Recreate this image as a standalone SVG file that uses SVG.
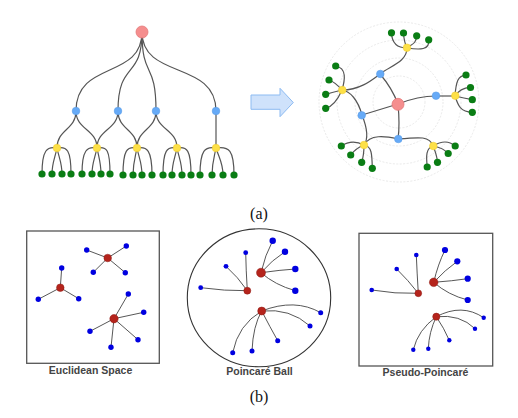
<svg xmlns="http://www.w3.org/2000/svg" width="518" height="418" viewBox="0 0 518 418">
<style>
.e{fill:none;stroke:#555;stroke-width:1.2}
.r0{fill:#f58e8e;stroke:#e57878;stroke-width:0.8}
.b0{fill:#66aaf7;stroke:#5a9de8;stroke-width:0.6}
.y0{fill:#fde047;stroke:#f2cf30;stroke-width:0.6}
.g0{fill:#0a7d14}
.ring{fill:none;stroke:#e3e3e3;stroke-width:0.8;stroke-dasharray:2 1.5}
.pe{fill:none;stroke:#444;stroke-width:0.9}
.pr{fill:#b5241c;stroke:#8f1a14;stroke-width:0.5}
.pb{fill:#0000e0}
.frame{fill:none;stroke:#555;stroke-width:1.3}
.lab{font-family:"Liberation Sans",Arial,sans-serif;font-weight:bold;font-size:10.5px;fill:#444;text-anchor:middle}
.cap{font-family:"Liberation Serif","Times New Roman",serif;font-size:16px;fill:#111;text-anchor:middle}
</style>

<!-- (a) left tree -->
<g id="tree-left">
<g id="tree-left-edges">
<path class="e" d="M142,32 C142,80 76,60 76,111"/>
<path class="e" d="M142,32 C142,80 118,60 118,111"/>
<path class="e" d="M142,32 C142,80 156,60 156,111"/>
<path class="e" d="M142,32 C142,80 216,60 216,111"/>
<path class="e" d="M76,111 C76,130 57,129 57,148"/>
<path class="e" d="M76,111 C76,130 97,129 97,148"/>
<path class="e" d="M118,111 C118,130 97,129 97,148"/>
<path class="e" d="M118,111 C118,130 137,129 137,148"/>
<path class="e" d="M156,111 C156,130 137,129 137,148"/>
<path class="e" d="M156,111 C156,130 177,129 177,148"/>
<path class="e" d="M216,111 L216,148"/>
<path class="e" d="M57,148 C47,146 42,150 42,174"/>
<path class="e" d="M57,148 C55,158 52,163 52,174"/>
<path class="e" d="M57,148 C59,158 62,163 62,174"/>
<path class="e" d="M57,148 C67,146 71,150 71,174"/>
<path class="e" d="M97,148 C87,146 82,150 82,174"/>
<path class="e" d="M97,148 C95,158 92,163 92,174"/>
<path class="e" d="M97,148 C99,158 101,163 101,174"/>
<path class="e" d="M97,148 C107,146 110,150 110,174"/>
<path class="e" d="M137,148 C127,146 123,150 123,175"/>
<path class="e" d="M137,148 C135,158 133,163 133,175"/>
<path class="e" d="M137,148 C139,158 142,163 142,175"/>
<path class="e" d="M137,148 C147,146 152,150 152,175"/>
<path class="e" d="M177,148 C167,146 163,150 163,175"/>
<path class="e" d="M177,148 C175,158 172,163 172,175"/>
<path class="e" d="M177,148 C179,158 182,163 182,175"/>
<path class="e" d="M177,148 C187,146 191,150 191,175"/>
<path class="e" d="M216,148 C205,146 200,150 200,175"/>
<path class="e" d="M216,148 C214,158 212,163 212,175"/>
<path class="e" d="M216,148 C219,158 223,163 223,175"/>
<path class="e" d="M216,148 C229,146 234,150 234,175"/>
</g>
<g id="tl-root"><circle class="r0" cx="142" cy="32" r="6"/></g>
<g id="tl-blue">
<circle class="b0" cx="76" cy="111" r="3.8"/>
<circle class="b0" cx="118" cy="111" r="3.8"/>
<circle class="b0" cx="156" cy="111" r="3.8"/>
<circle class="b0" cx="216" cy="111" r="3.8"/>
</g>
<g id="tl-yellow">
<circle class="y0" cx="57" cy="148" r="3.8"/>
<circle class="y0" cx="97" cy="148" r="3.8"/>
<circle class="y0" cx="137" cy="148" r="3.8"/>
<circle class="y0" cx="177" cy="148" r="3.8"/>
<circle class="y0" cx="216" cy="148" r="3.8"/>
</g>
<g id="tl-green">
<circle class="g0" cx="42" cy="174" r="3.6"/>
<circle class="g0" cx="52" cy="174" r="3.6"/>
<circle class="g0" cx="62" cy="174" r="3.6"/>
<circle class="g0" cx="71" cy="174" r="3.6"/>
<circle class="g0" cx="82" cy="174" r="3.6"/>
<circle class="g0" cx="92" cy="174" r="3.6"/>
<circle class="g0" cx="101" cy="174" r="3.6"/>
<circle class="g0" cx="110" cy="174" r="3.6"/>
<circle class="g0" cx="123" cy="175" r="3.6"/>
<circle class="g0" cx="133" cy="175" r="3.6"/>
<circle class="g0" cx="142" cy="175" r="3.6"/>
<circle class="g0" cx="152" cy="175" r="3.6"/>
<circle class="g0" cx="163" cy="175" r="3.6"/>
<circle class="g0" cx="172" cy="175" r="3.6"/>
<circle class="g0" cx="182" cy="175" r="3.6"/>
<circle class="g0" cx="191" cy="175" r="3.6"/>
<circle class="g0" cx="200" cy="175" r="3.6"/>
<circle class="g0" cx="212" cy="175" r="3.6"/>
<circle class="g0" cx="223" cy="175" r="3.6"/>
<circle class="g0" cx="234" cy="175" r="3.6"/>
</g>
</g>

<!-- arrow -->
<g id="arrow">
<polygon points="251,95 280,95 280,88.3 293.3,102.5 280,116.7 280,109.3 251,109.3" fill="#cfe2fb" stroke="#8dbbf2" stroke-width="1"/>
</g>

<!-- (a) radial tree -->
<g id="tree-radial">
<g id="rings">
<circle class="ring" cx="399" cy="102" r="26"/>
<circle class="ring" cx="399" cy="102" r="44"/>
<circle class="ring" cx="399" cy="102" r="62"/>
<circle class="ring" cx="399" cy="102" r="80"/>
</g>
<g id="tree-radial-edges">
<path class="e" d="M398,104 Q392,88 380,74"/>
<path class="e" d="M398,104 Q418,96 436,96"/>
<path class="e" d="M398,104 L362,115"/>
<path class="e" d="M398,104 Q400,125 398,139"/>
<path class="e" d="M380,74 C390,66 407,62 407,48"/>
<path class="e" d="M380,74 C372,80 360,90 342,90"/>
<path class="e" d="M362,115 C358,100 350,91 342,90"/>
<path class="e" d="M362,115 C366,125 369,138 364,145"/>
<path class="e" d="M398,139 C385,136 370,134 364,145"/>
<path class="e" d="M398,139 C420,137 430,136 433,146"/>
<path class="e" d="M436,96 L455,96"/>
<path class="e" d="M407,48 C398,48 392,44 391.5,33"/>
<path class="e" d="M407,48 Q404,42 403.5,33"/>
<path class="e" d="M407,48 C412,44 416,44 416.7,36"/>
<path class="e" d="M407,48 C420,50 430,50 428.7,40"/>
<path class="e" d="M342,90 C345,80 347,68 335.7,66"/>
<path class="e" d="M342,90 Q335,82 329,80"/>
<path class="e" d="M342,90 Q334,92 325.7,94.3"/>
<path class="e" d="M342,90 Q335,106 325.7,108.3"/>
<path class="e" d="M455,96 C456,82 458,75 466,75.3"/>
<path class="e" d="M455,96 Q460,88 470.3,87.3"/>
<path class="e" d="M455,96 Q464,98 472.3,99.7"/>
<path class="e" d="M455,96 C458,105 460,112 472.3,112.3"/>
<path class="e" d="M364,145 Q352,139 341.3,146"/>
<path class="e" d="M364,145 Q356,148 350.7,155"/>
<path class="e" d="M364,145 Q364,155 361.7,162.3"/>
<path class="e" d="M364,145 C372,146 372,155 372.3,168.3"/>
<path class="e" d="M433,146 Q446,138 455,146"/>
<path class="e" d="M433,146 Q444,148 448,153.7"/>
<path class="e" d="M433,146 Q436,152 437.7,162.3"/>
<path class="e" d="M433,146 C426,148 426,156 427.3,167"/>
</g>
<g id="tr-root"><circle class="r0" cx="398" cy="104.3" r="6"/></g>
<g id="tr-blue">
<circle class="b0" cx="380.3" cy="74" r="3.8"/>
<circle class="b0" cx="436" cy="95.7" r="3.8"/>
<circle class="b0" cx="361.7" cy="115.3" r="3.8"/>
<circle class="b0" cx="398.3" cy="139" r="3.8"/>
</g>
<g id="tr-yellow">
<circle class="y0" cx="407" cy="47.7" r="3.8"/>
<circle class="y0" cx="342.3" cy="90" r="3.8"/>
<circle class="y0" cx="455.3" cy="95.7" r="3.8"/>
<circle class="y0" cx="364" cy="145" r="3.8"/>
<circle class="y0" cx="433.3" cy="146" r="3.8"/>
</g>
<g id="tr-green">
<circle class="g0" cx="391.5" cy="32.8" r="3.6"/>
<circle class="g0" cx="403.5" cy="33" r="3.6"/>
<circle class="g0" cx="416.7" cy="35.8" r="3.6"/>
<circle class="g0" cx="428.7" cy="39.8" r="3.6"/>
<circle class="g0" cx="335.7" cy="66" r="3.6"/>
<circle class="g0" cx="329" cy="80" r="3.6"/>
<circle class="g0" cx="325.7" cy="94.3" r="3.6"/>
<circle class="g0" cx="325.7" cy="108.3" r="3.6"/>
<circle class="g0" cx="466" cy="75" r="3.6"/>
<circle class="g0" cx="470.5" cy="87.5" r="3.6"/>
<circle class="g0" cx="472.3" cy="99.7" r="3.6"/>
<circle class="g0" cx="472.3" cy="112.3" r="3.6"/>
<circle class="g0" cx="341.3" cy="146" r="3.6"/>
<circle class="g0" cx="350.7" cy="155" r="3.6"/>
<circle class="g0" cx="361.7" cy="162.3" r="3.6"/>
<circle class="g0" cx="372.3" cy="168.3" r="3.6"/>
<circle class="g0" cx="455.2" cy="146" r="3.6"/>
<circle class="g0" cx="448.2" cy="153.5" r="3.6"/>
<circle class="g0" cx="437.5" cy="162.3" r="3.6"/>
<circle class="g0" cx="427.2" cy="167" r="3.6"/>
</g>
</g>

<text class="cap" x="259" y="218.5">(a)</text>

<!-- (b) Euclidean Space -->
<g id="euclidean">
<rect class="frame" x="26.7" y="231" width="132.6" height="132.3"/>
<g id="euclid-edges">
<path class="pe" d="M107.7,258 L86.7,250 M107.7,258 L126.3,246 M107.7,258 L93.3,272.3 M107.7,258 L125.3,272.7"/>
<path class="pe" d="M60.3,287.7 L61.7,268 M60.3,287.7 L38.3,299.3 M60.3,287.7 L78.7,298.7"/>
<path class="pe" d="M114,318.7 L128.3,294 M114,318.7 L143.7,312.3 M114,318.7 L90,331.3 M114,318.7 L138,339.7 M114,318.7 L111,347.3"/>
</g>
<g id="euclid-nodes">
<circle class="pr" cx="107.7" cy="258" r="3.8"/>
<circle class="pr" cx="60.3" cy="287.7" r="3.8"/>
<circle class="pr" cx="114" cy="318.7" r="4.2"/>
<circle class="pb" cx="86.7" cy="250" r="2.7"/>
<circle class="pb" cx="126.3" cy="246" r="2.7"/>
<circle class="pb" cx="93.3" cy="272.3" r="2.7"/>
<circle class="pb" cx="125.3" cy="272.7" r="2.7"/>
<circle class="pb" cx="61.7" cy="268" r="2.7"/>
<circle class="pb" cx="38.3" cy="299.3" r="2.7"/>
<circle class="pb" cx="78.7" cy="298.7" r="2.7"/>
<circle class="pb" cx="128.3" cy="294" r="2.7"/>
<circle class="pb" cx="143.7" cy="312.3" r="2.7"/>
<circle class="pb" cx="90" cy="331.3" r="2.7"/>
<circle class="pb" cx="138" cy="339.7" r="2.7"/>
<circle class="pb" cx="111" cy="347.3" r="2.7"/>
</g>
<text class="lab" x="90.5" y="374">Euclidean Space</text>
</g>

<!-- (b) Poincaré Ball -->
<g id="poincare">
<ellipse cx="259" cy="297.8" rx="71.7" ry="69" fill="none" stroke="#333" stroke-width="1.1"/>
<g id="poincare-edges">
<path class="pe" d="M261,272.7 Q265,255 272.7,240.7"/>
<path class="pe" d="M261,272.7 Q272,260 285,251.7"/>
<path class="pe" d="M261,272.7 Q280,270 295.3,269"/>
<path class="pe" d="M261,272.7 Q275,285 295.3,290.7"/>
<path class="pe" d="M247.3,290.7 Q246,270 245.7,252.7"/>
<path class="pe" d="M247.3,290.7 Q238,277 226,266.3"/>
<path class="pe" d="M247.3,290.7 Q225,291 200.7,287.7"/>
<path class="pe" d="M261.7,311 Q295,298 320.7,312.7"/>
<path class="pe" d="M261.7,311 Q290,308 310,326"/>
<path class="pe" d="M261.7,311 Q270,327 277.7,340.7"/>
<path class="pe" d="M261.7,311 Q253,326 252,351"/>
<path class="pe" d="M261.7,311 Q238,325 232.7,352.7"/>
</g>
<g id="poincare-nodes">
<circle class="pr" cx="261" cy="272.7" r="4.5"/>
<circle class="pr" cx="247.3" cy="290.7" r="3.5"/>
<circle class="pr" cx="261.7" cy="311" r="4"/>
<circle class="pb" cx="272.7" cy="240.7" r="3.2"/>
<circle class="pb" cx="285" cy="251.7" r="3.2"/>
<circle class="pb" cx="295.3" cy="269" r="3.2"/>
<circle class="pb" cx="295.3" cy="290.7" r="3.2"/>
<circle class="pb" cx="245.7" cy="252.7" r="2.4"/>
<circle class="pb" cx="226" cy="266.3" r="2.4"/>
<circle class="pb" cx="200.7" cy="287.7" r="2.4"/>
<circle class="pb" cx="320.7" cy="312.7" r="2.5"/>
<circle class="pb" cx="310" cy="326" r="2.5"/>
<circle class="pb" cx="277.7" cy="340.7" r="2.5"/>
<circle class="pb" cx="252" cy="351" r="2.5"/>
<circle class="pb" cx="232.7" cy="352.7" r="2.5"/>
</g>
<text class="lab" x="259.5" y="374.5">Poincaré Ball</text>
</g>

<!-- (b) Pseudo-Poincaré -->
<g id="pseudo-poincare">
<rect class="frame" x="359" y="233.3" width="133.7" height="132.7"/>
<g id="pseudo-edges">
<path class="pe" d="M433.7,282.3 Q438,264 445,250"/>
<path class="pe" d="M433.7,282.3 Q445,270 457.3,261.3"/>
<path class="pe" d="M433.7,282.3 Q452,281 467.7,278.7"/>
<path class="pe" d="M433.7,282.3 Q448,295 467.7,300"/>
<path class="pe" d="M418.3,293.3 Q417,272 416.3,255"/>
<path class="pe" d="M418.3,293.3 Q408,280 396.7,269"/>
<path class="pe" d="M418.3,293.3 Q395,294 371.7,290"/>
<path class="pe" d="M436.3,316.7 Q462,303 483.7,317.7"/>
<path class="pe" d="M436.3,316.7 Q460,314 475,328.7"/>
<path class="pe" d="M436.3,316.7 Q444,328 449.3,340.3"/>
<path class="pe" d="M436.3,316.7 Q429,332 428.3,348.7"/>
<path class="pe" d="M436.3,316.7 Q418,330 413.3,349.7"/>
</g>
<g id="pseudo-nodes">
<circle class="pr" cx="433.7" cy="282.3" r="4.3"/>
<circle class="pr" cx="418.3" cy="293.3" r="3.4"/>
<circle class="pr" cx="436.3" cy="316.7" r="3.6"/>
<circle class="pb" cx="445" cy="250" r="3.1"/>
<circle class="pb" cx="457.3" cy="261.3" r="3.1"/>
<circle class="pb" cx="467.7" cy="278.7" r="3.1"/>
<circle class="pb" cx="467.7" cy="300" r="3.1"/>
<circle class="pb" cx="416.3" cy="255" r="2.3"/>
<circle class="pb" cx="396.7" cy="269" r="2.3"/>
<circle class="pb" cx="371.7" cy="290" r="2.3"/>
<circle class="pb" cx="483.7" cy="317.7" r="2.2"/>
<circle class="pb" cx="475" cy="328.7" r="2.2"/>
<circle class="pb" cx="449.3" cy="340.3" r="2.2"/>
<circle class="pb" cx="428.3" cy="348.7" r="2.2"/>
<circle class="pb" cx="413.3" cy="349.7" r="2.2"/>
</g>
<text class="lab" x="425.5" y="376">Pseudo-Poincaré</text>
</g>

<text class="cap" x="259" y="402">(b)</text>
</svg>
